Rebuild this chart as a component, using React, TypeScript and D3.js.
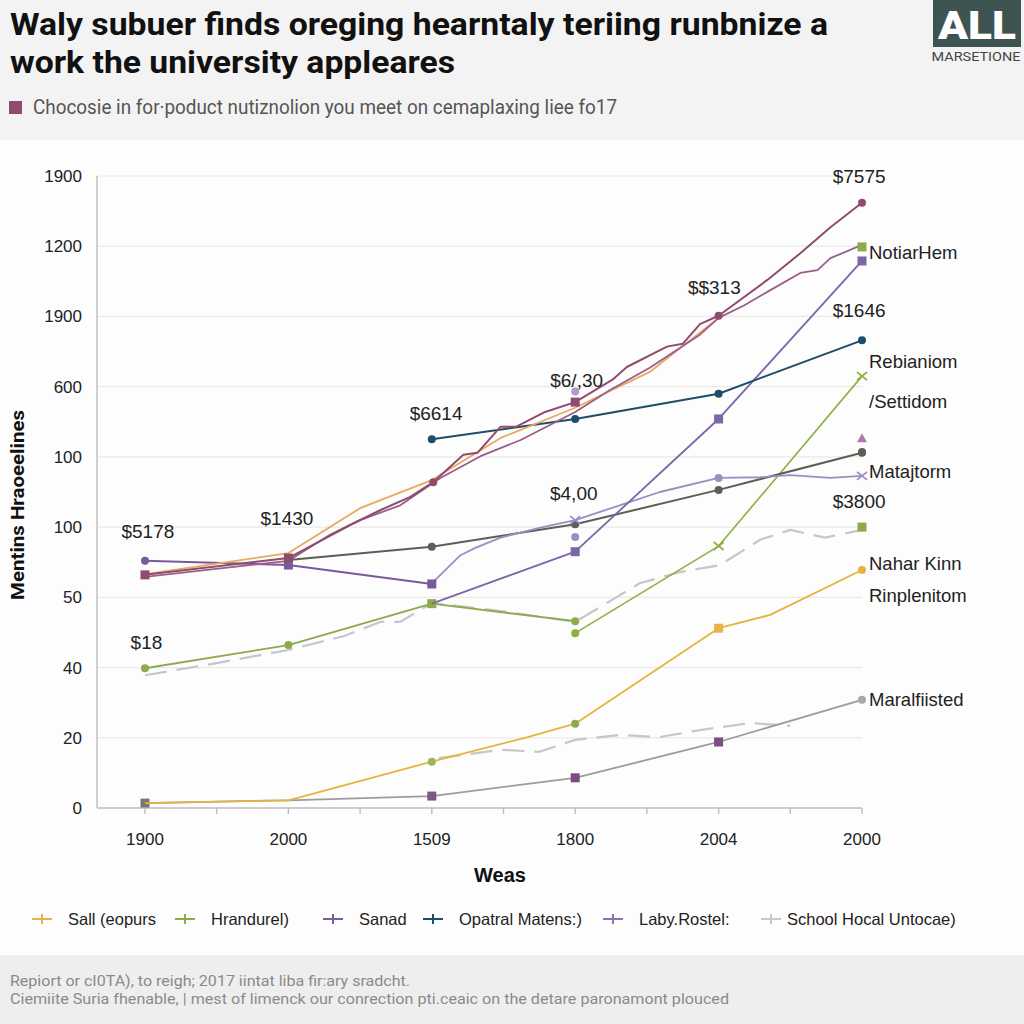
import React from "react";
import * as d3 from "d3";

const xLabels = ["1900", "2000", "1509", "1800", "2004", "2000"];
const yLabels = ["0", "20", "40", "50", "100", "100", "600", "1900", "1200", "1900"];

type P = [number, number];

const maroonA: P[] = [[0,3.32],[1,3.56],[1.43,4.03],[1.64,4.24],[1.85,4.43],[2.01,4.64],[2.22,5.03],[2.32,5.06],[2.48,5.43],[2.59,5.43],[2.79,5.64],[3,5.78],[3.26,6.1],[3.36,6.28],[3.64,6.57],[3.75,6.61],[3.87,6.89],[4,7.01],[4.34,7.52],[4.57,7.9],[4.78,8.27],[5,8.62]];
const maroonB: P[] = [[0,3.29],[1,3.52],[1.29,3.89],[1.5,4.1],[1.78,4.31],[2.06,4.7],[2.34,5.01],[2.62,5.24],[3,5.64],[3.24,5.95],[3.52,6.27],[3.87,6.74],[4,6.98],[4.18,7.16],[4.34,7.35],[4.57,7.62],[4.69,7.66],[4.78,7.83],[5,8.02]];
const orangeVals: P[] = [[0,3.33],[1,3.63],[1.5,4.27],[2,4.67],[2.48,5.27],[3,5.7],[3.52,6.21],[4,6.98]];
const sanadVals: P[] = [[0,3.52],[1,3.46],[2,3.19]];
const purpleRise: P[] = [[2,2.91],[3,3.65],[4,5.54],[5,7.79]];
const labyVals: P[] = [[2,3.2],[2.2,3.6],[2.3,3.7],[2.48,3.85],[2.75,3.99],[3,4.1],[3.31,4.31],[3.59,4.5],[4,4.7],[4.29,4.71],[4.5,4.74],[4.78,4.7],[5,4.73]];
const opatralVals: P[] = [[2,5.25],[3,5.54],[4,5.9],[5,6.66]];
const darkVals: P[] = [[1,3.53],[2,3.72],[3,4.04],[4,4.53],[5,5.06]];
const greenA: P[] = [[0,1.99],[1,2.32],[2,2.91],[3,2.66]];
const greenB: P[] = [[3,2.49],[4,3.73],[5,6.15]];
const sallVals: P[] = [[0,0.07],[1,0.11],[2,0.66],[2.65,1.0],[3,1.2],[4,2.56],[4.36,2.75],[5,3.39]];
const schoolUpper: P[] = [[0,1.89],[0.49,2.06],[1,2.25],[1.39,2.45],[1.64,2.65],[1.78,2.65],[2,2.92],[2.5,2.8],[3,2.65],[3.45,3.2],[3.73,3.36],[4.01,3.46],[4.29,3.82],[4.5,3.96],[4.74,3.85],[5,3.96]];
const schoolLower: P[] = [[2.05,0.71],[2.48,0.83],[2.75,0.8],[3,0.97],[3.31,1.04],[3.59,1.01],[3.87,1.11],[4.22,1.21],[4.5,1.17]];
const grayVals: P[] = [[0,0.07],[1,0.11],[2,0.17],[3,0.43],[4,0.94],[5,1.54]];

const valueNotes = [
  { t: "$5178", x: 0.02, v: 3.85 },
  { t: "$1430", x: 0.99, v: 4.03 },
  { t: "$18", x: 0.01, v: 2.27 },
  { t: "$6614", x: 2.03, v: 5.53 },
  { t: "$6/,30", x: 3.01, v: 6.0 },
  { t: "$4,00", x: 2.99, v: 4.38 },
  { t: "$$313", x: 3.97, v: 7.32 },
  { t: "$7575", x: 4.98, v: 8.9 },
  { t: "$1646", x: 4.98, v: 6.99 },
  { t: "$3800", x: 4.98, v: 4.27 },
];
const sideNames = [
  { t: "NotiarHem", v: 7.91 },
  { t: "Rebianiom", v: 6.35 },
  { t: "/Settidom", v: 5.78 },
  { t: "Matajtorm", v: 4.79 },
  { t: "Nahar Kinn", v: 3.47 },
  { t: "Rinplenitom", v: 3.02 },
  { t: "Maralfiisted", v: 1.54 },
];
const legendNames = ["Sall (eopurs", "Hrandurel)", "Sanad", "Opatral Matens:)", "Laby.Rostel:", "School Hocal Untocae)"];
const legendColors = ["#E7B44A", "#8DAA4C", "#7B5E9C", "#1E4D6B", "#8C70B4", "#C8C8C8"];
const legendX = [32, 175, 323, 423, 603, 761];

type S = { pts: P[]; color: string; w: number; dash?: string; marks?: { i: number; shape: string; c?: string }[] };

const series: S[] = [
  { pts: schoolUpper, color: "#C6C6C6", w: 2.2, dash: "22 10" },
  { pts: schoolLower, color: "#C6C6C6", w: 2.2, dash: "22 10" },
  { pts: grayVals, color: "#9C9C9C", w: 1.8, marks: [{ i: 0, shape: "sq", c: "#777" }, { i: 2, shape: "sq", c: "#7A5A80" }, { i: 3, shape: "sq", c: "#7A4E7E" }, { i: 4, shape: "sq", c: "#7A4E7E" }, { i: 5, shape: "c", c: "#A8A8A8" }] },
  { pts: sallVals, color: "#E4B43E", w: 1.8, marks: [{ i: 2, shape: "c", c: "#9DB35A" }, { i: 4, shape: "c", c: "#8DAA4C" }, { i: 5, shape: "sq", c: "#E9B24A" }, { i: 7, shape: "c" }] },
  { pts: greenA, color: "#8DAA4C", w: 1.8, marks: [{ i: 0, shape: "c" }, { i: 1, shape: "c" }, { i: 2, shape: "sq" }, { i: 3, shape: "c" }] },
  { pts: greenB, color: "#8DB040", w: 1.6, marks: [{ i: 0, shape: "c" }, { i: 1, shape: "x" }, { i: 2, shape: "x" }] },
  { pts: darkVals, color: "#5A6054", w: 2, marks: [{ i: 1, shape: "c" }, { i: 2, shape: "c" }, { i: 3, shape: "c" }, { i: 4, shape: "c" }] },
  { pts: labyVals, color: "#A08CC4", w: 1.8, marks: [{ i: 5, shape: "x" }, { i: 8, shape: "c" }, { i: 12, shape: "x" }] },
  { pts: purpleRise, color: "#7B66A6", w: 1.8, marks: [{ i: 1, shape: "sq" }, { i: 2, shape: "sq" }, { i: 3, shape: "sq" }] },
  { pts: sanadVals, color: "#775A9C", w: 2, marks: [{ i: 0, shape: "c" }, { i: 1, shape: "sq" }, { i: 2, shape: "sq" }] },
  { pts: opatralVals, color: "#1E4D6B", w: 2, marks: [{ i: 0, shape: "c" }, { i: 1, shape: "c" }, { i: 2, shape: "c" }, { i: 3, shape: "c" }] },
  { pts: orangeVals, color: "#EAA95E", w: 1.8 },
  { pts: maroonB, color: "#9A5E8C", w: 1.8 },
  { pts: maroonA, color: "#8E4D6E", w: 2, marks: [{ i: 0, shape: "sq" }, { i: 1, shape: "sq" }, { i: 5, shape: "c" }, { i: 11, shape: "sq" }, { i: 17, shape: "c" }, { i: 21, shape: "c" }] },
];

const extraMarks = [
  { x: 5, v: 7.99, shape: "sq", c: "#8DAA4C" },
  { x: 5, v: 5.25, shape: "tri", c: "#B07AB0" },
  { x: 5, v: 5.07, shape: "c", c: "#5A6054" },
  { x: 5, v: 4.0, shape: "sq", c: "#8DAA4C" },
  { x: 3, v: 3.86, shape: "c", c: "#A08CC4" },
  { x: 3, v: 5.93, shape: "c", c: "#B39AC8" },
];

const FONT = "'Liberation Sans', Arial, sans-serif";

export default function App() {
  const x = d3.scaleLinear().domain([0, 5]).range([145, 862]);
  const y = d3.scaleLinear().domain([0, 9]).range([808, 176]);
  const line = d3.line<P>().x((d) => x(d[0])).y((d) => y(d[1]));
  const xMin = x.invert(97);

  const mark = (cx: number, cy: number, shape: string, c: string, key: string) => {
    if (shape === "sq") return <rect key={key} x={cx - 4.5} y={cy - 4.5} width={9} height={9} fill={c} />;
    if (shape === "x") return <g key={key} stroke={c} strokeWidth={1.8}><line x1={cx - 5} y1={cy - 4} x2={cx + 5} y2={cy + 4} /><line x1={cx - 5} y1={cy + 4} x2={cx + 5} y2={cy - 4} /></g>;
    if (shape === "tri") return <path key={key} d={`M${cx},${cy - 6}L${cx + 5},${cy + 3}L${cx - 5},${cy + 3}Z`} fill={c} />;
    return <circle key={key} cx={cx} cy={cy} r={4} fill={c} />;
  };

  const minorTicks = d3.range(0, 5.01, 0.5);

  return (
    <div style={{ position: "absolute", left: 0, top: 0 }}>
      <svg width={1024} height={1024} style={{ display: "block", fontFamily: FONT }}>
        <rect x={0} y={0} width={1024} height={1024} fill="#FDFDFD" />
        <rect x={0} y={0} width={1024} height={140} fill="#F3F3F3" />
        <rect x={0} y={955} width={1024} height={69} fill="#EEEEEE" />

        <text x={10} y={35} fontSize={32} fontWeight={700} fill="#111" fontFamily="Roboto, sans-serif" textLength={818} lengthAdjust="spacingAndGlyphs">Waly subuer finds oreging hearntaly teriing runbnize a</text>
        <text x={10} y={73} fontSize={32} fontWeight={700} fill="#111" fontFamily="Roboto, sans-serif" textLength={445} lengthAdjust="spacingAndGlyphs">work the university appleares</text>
        <rect x={9} y={101} width={13} height={13} fill="#8E4D6E" />
        <text x={33} y={114} fontSize={20} fill="#555" fontFamily="Roboto, sans-serif" textLength={584} lengthAdjust="spacingAndGlyphs">Chocosie in for·poduct nutiznolion you meet on cemaplaxing liee fo17</text>

        <rect x={933} y={0} width={88} height={47} fill="#3E5451" />
        <text x={977} y={39} textAnchor="middle" fontSize={38} fontWeight={900} fill="#FFFFFF" fontFamily="Roboto, sans-serif" textLength={78} lengthAdjust="spacingAndGlyphs">ALL</text>
        <text x={976} y={61} textAnchor="middle" fontSize={13} fill="#444" fontFamily="Roboto, sans-serif" textLength={89} lengthAdjust="spacingAndGlyphs">MARSETIONE</text>

        {yLabels.map((t, i) => (
          <g key={"g" + i}>
            <line x1={x(xMin)} x2={x(5)} y1={y(i)} y2={y(i)} stroke={i === 0 ? "#BDBDBD" : "#E9E9E9"} strokeWidth={i === 0 ? 1.6 : 1.2} />
            <text x={82} y={y(i) + 6} textAnchor="end" fontSize={17} fill="#222">{t}</text>
          </g>
        ))}
        <line x1={97} x2={97} y1={y(9)} y2={y(0)} stroke="#C4C4C4" strokeWidth={1.6} />
        {minorTicks.map((t) => (
          <line key={"mt" + t} x1={x(t)} x2={x(t)} y1={808} y2={814} stroke="#BDBDBD" strokeWidth={1.4} />
        ))}
        {xLabels.map((t, i) => (
          <text key={"x" + i} x={x(i)} y={845} textAnchor="middle" fontSize={17} fill="#222">{t}</text>
        ))}
        <text x={500} y={882} textAnchor="middle" fontSize={20} fontWeight={700} fill="#111">Weas</text>
        <text transform="translate(24,505) rotate(-90)" textAnchor="middle" fontSize={18} fontWeight={700} fill="#111" fontFamily="Roboto, sans-serif" textLength={190} lengthAdjust="spacingAndGlyphs">Mentins Hraoeelines</text>

        {series.map((s, si) => (
          <g key={"s" + si}>
            <path d={line(s.pts) || ""} fill="none" stroke={s.color} strokeWidth={s.w} strokeDasharray={s.dash} strokeLinejoin="round" />
            {(s.marks || []).map((m, mi) => mark(x(s.pts[m.i][0]), y(s.pts[m.i][1]), m.shape, m.c || s.color, `m${si}-${mi}`))}
          </g>
        ))}
        {extraMarks.map((m, i) => mark(x(m.x), y(m.v), m.shape, m.c, "e" + i))}

        {valueNotes.map((n, i) => (
          <text key={"n" + i} x={x(n.x)} y={y(n.v)} textAnchor="middle" fontSize={19} fill="#222">{n.t}</text>
        ))}
        {sideNames.map((n, i) => (
          <text key={"sn" + i} x={869} y={y(n.v) + 6} fontSize={18.5} fill="#222">{n.t}</text>
        ))}

        {legendNames.map((t, i) => (
          <g key={"l" + i}>
            <line x1={legendX[i]} x2={legendX[i] + 20} y1={919} y2={919} stroke={legendColors[i]} strokeWidth={2} />
            <line x1={legendX[i] + 10} x2={legendX[i] + 10} y1={914} y2={924} stroke={legendColors[i]} strokeWidth={2} />
            <text x={legendX[i] + (i === 5 ? 26 : 36)} y={925} fontSize={16.5} fill="#222">{t}</text>
          </g>
        ))}

        <text x={10} y={986} fontSize={15} fill="#8A8A8A" fontFamily="Roboto, sans-serif" textLength={400} lengthAdjust="spacingAndGlyphs">Repiort or cI0TA), to reigh; 2017 iintat liba fir:ary sradcht.</text>
        <text x={10} y={1004} fontSize={15} fill="#8A8A8A" fontFamily="Roboto, sans-serif" textLength={719} lengthAdjust="spacingAndGlyphs">Ciemiite Suria fhenable, | mest of limenck our conrection pti.ceaic on the detare paronamont plouced</text>
      </svg>
    </div>
  );
}
